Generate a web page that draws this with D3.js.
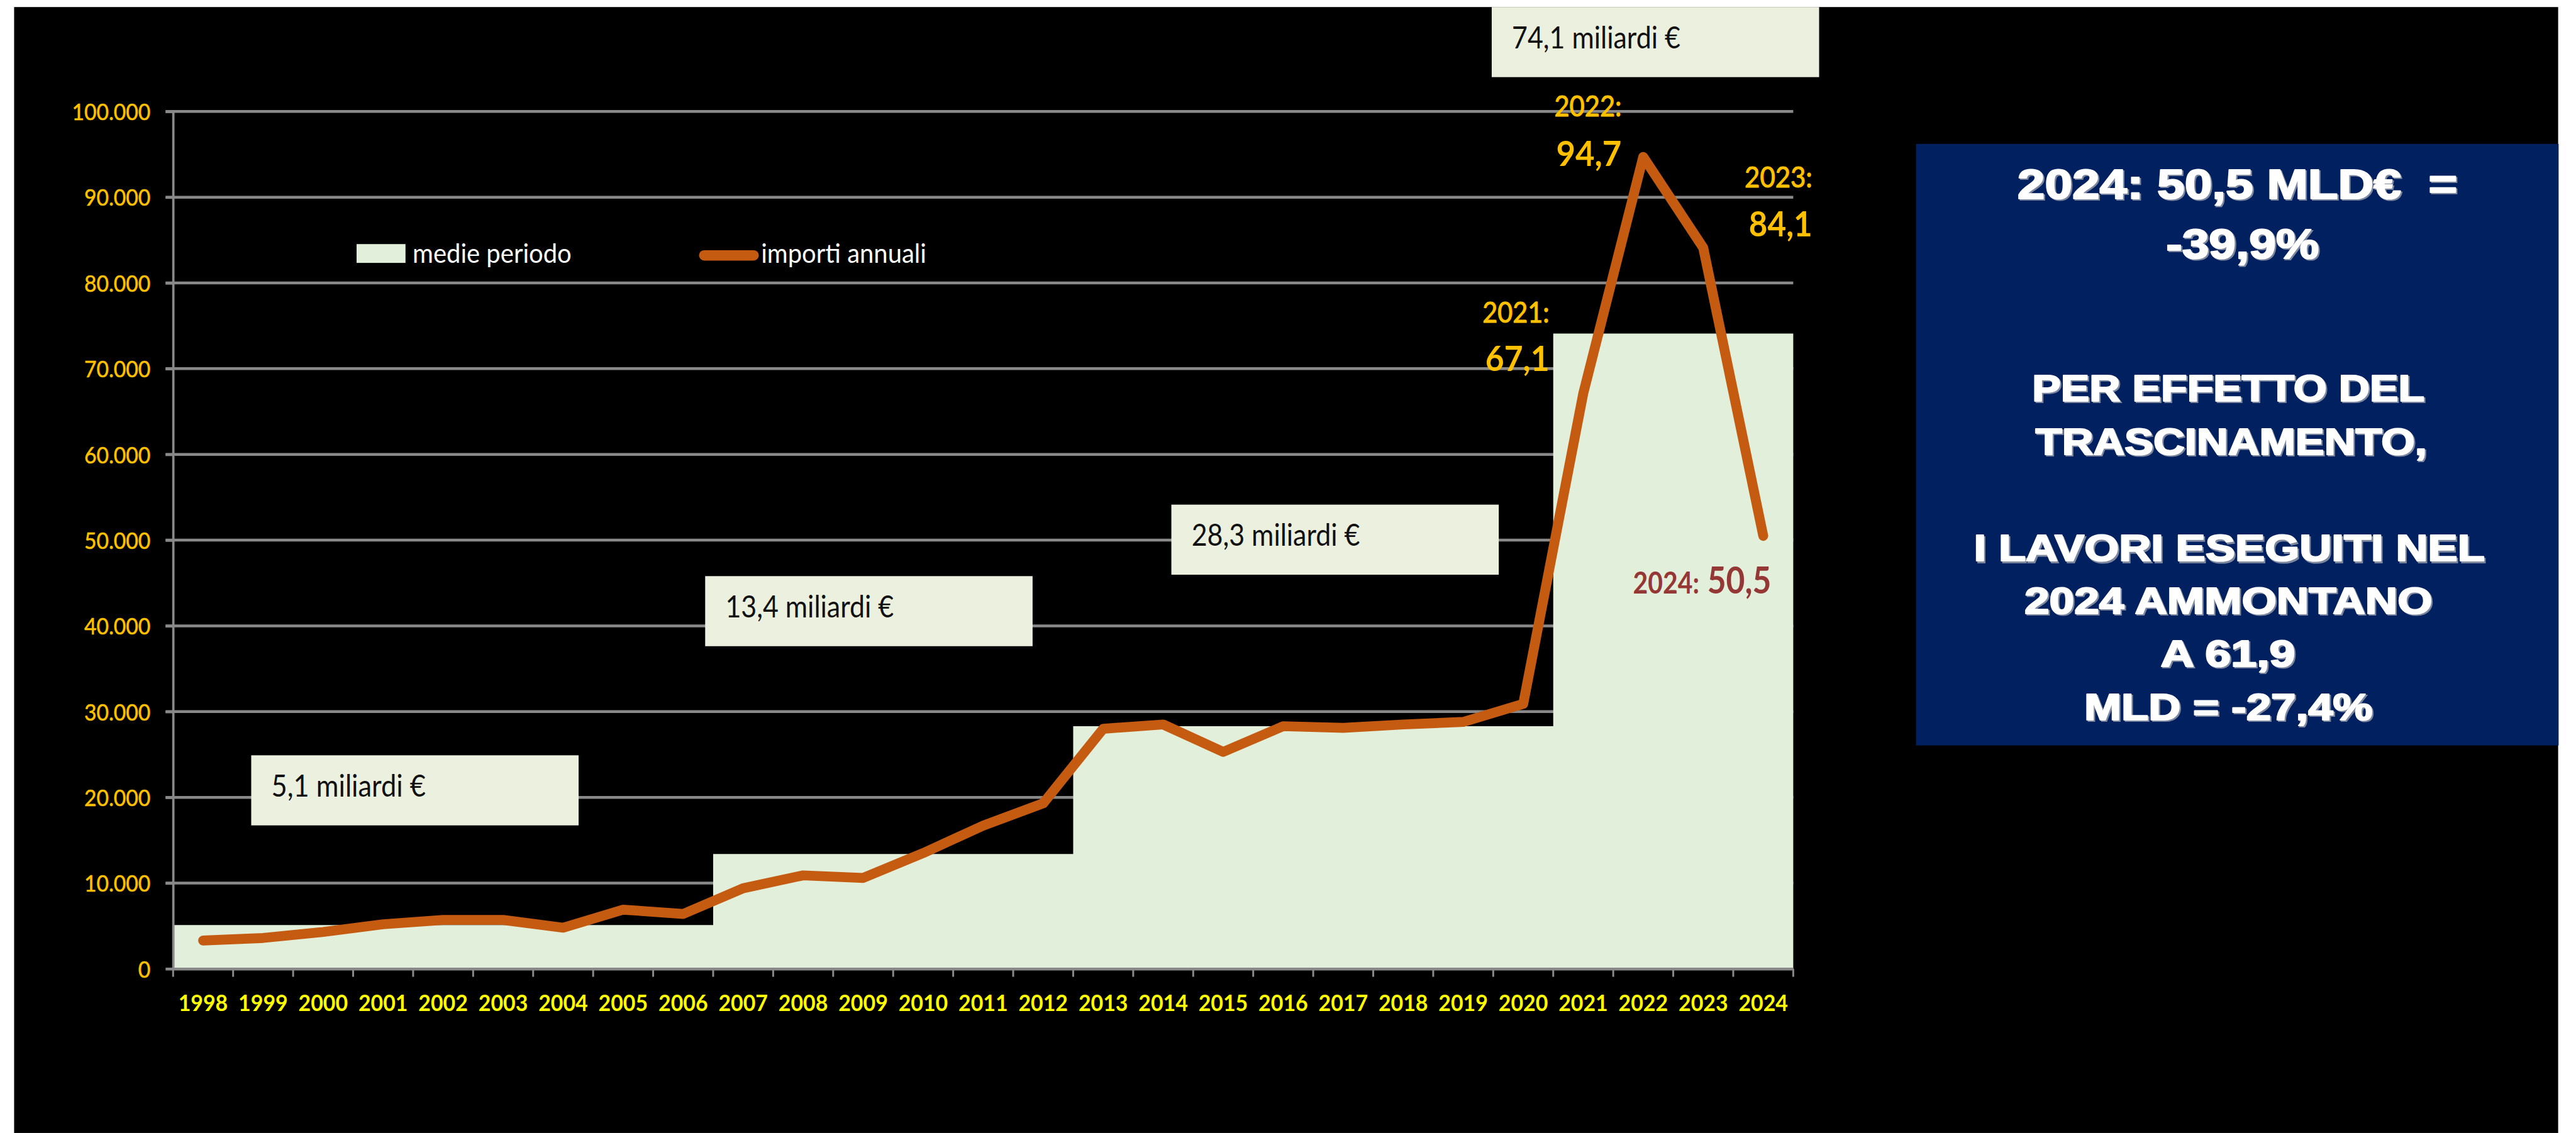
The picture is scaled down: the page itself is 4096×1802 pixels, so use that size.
<!DOCTYPE html>
<html><head><meta charset="utf-8">
<script src="https://cdn.jsdelivr.net/npm/d3@7"></script>
<style>html,body{margin:0;padding:0;background:#fff;overflow:hidden}</style>
</head><body>
<svg id="c" width="4096" height="1802"></svg>
<script>
// ---------- data ----------
const years = ["1998","1999","2000","2001","2002","2003","2004","2005","2006","2007","2008","2009","2010","2011","2012","2013","2014","2015","2016","2017","2018","2019","2020","2021","2022","2023","2024"];
const importiAnnuali = [3300,3600,4300,5200,5700,5700,4800,6900,6400,9400,10900,10600,13500,16700,19300,28000,28500,25300,28300,28100,28500,28800,30900,67100,94700,84100,50500];
const periodStart = ["1998","2007","2013","2021"];
const periodEnd   = ["2006","2012","2020","2024"];
const medieValues = [5100,13400,28300,74100];
const yTicks = [0,10000,20000,30000,40000,50000,60000,70000,80000,90000,100000];
const yTickLabels = ["0","10.000","20.000","30.000","40.000","50.000","60.000","70.000","80.000","90.000","100.000"];
const legendLabels = ["medie periodo","importi annuali"];
const calloutYears = ["2021","2022","2023","2024"];
const infoLines = ["2024: 50,5 MLD€  =","-39,9%","PER EFFETTO DEL","TRASCINAMENTO,","","I LAVORI ESEGUITI NEL","2024 AMMONTANO","A 61,9","MLD = -27,4%"];

// ---------- setup ----------
const S = 0.748;
const it = d3.formatLocale({decimal:",", thousands:".", grouping:[3], currency:["","€"]});
const fmt1 = it.format(".1f");
const svg = d3.select('#c');
const root = svg.append('g').attr('transform', `scale(${S})`);
const LATO = "Lato, 'Open Sans', sans-serif";
const COL_AREA = "#E2EFDA", COL_BOX = "#EBF0DF", COL_LINE = "#C55A11", COL_GRID = "#898989";

function fit(sel, w){ sel.attr('textLength', w).attr('lengthAdjust','spacingAndGlyphs'); return sel; }
function squeeze(sel, k){ sel.each(function(){ const L=this.getComputedTextLength(); this.setAttribute('textLength', L*k); this.setAttribute('lengthAdjust','spacingAndGlyphs'); }); }

root.append('rect').attr('x',30).attr('y',15).attr('width',5408).attr('height',2394).attr('fill','#000');

const x = d3.scaleBand().domain(years).range([368, 3812]).padding(0);
const bw = x.bandwidth();
const y = d3.scaleLinear().domain([0,100000]).range([2060, 237]);
const cx = d => x(d) + bw/2;

// gridlines
root.append('g').selectAll('line').data(yTicks.filter(d=>d>0)).join('line')
  .attr('x1', 352).attr('x2', x.range()[1]).attr('y1', d=>y(d)).attr('y2', d=>y(d))
  .attr('stroke', COL_GRID).attr('stroke-width', 6);

// period areas (one step path so no seams)
const stepPts = [];
medieValues.forEach((v,i)=>{
  stepPts.push([x(periodStart[i]), v]);
  stepPts.push([x(periodEnd[i]) + bw, v]);
});
root.append('path')
  .attr('d', d3.area().x(d=>d[0]).y0(y(0)).y1(d=>y(d[1])).curve(d3.curveLinear)(stepPts))
  .attr('fill', COL_AREA);

// y axis
const yAxis = root.append('g').attr('transform','translate(368,0)')
  .call(d3.axisLeft(y).tickValues(yTicks).tickFormat((d,i)=>yTickLabels[i]).tickSize(16).tickSizeOuter(0).tickPadding(32));
yAxis.select('.domain').attr('stroke', COL_GRID).attr('stroke-width', 5);
yAxis.selectAll('.tick line').attr('stroke', COL_GRID).attr('stroke-width', 6);
const yt = yAxis.selectAll('.tick text').attr('fill','#FFC000').attr('font-family',LATO).attr('font-size',50).attr('dy', 18)
  .attr('stroke','#FFC000').attr('stroke-width',0.8);
{ const n = yt.nodes(); const k = 167 / n[n.length-1].getComputedTextLength(); squeeze(yt, k); }

// x axis
const xAxis = root.append('g').attr('transform',`translate(0,${y(0)})`)
  .call(d3.axisBottom(x).tickSize(0).tickSizeOuter(0));
xAxis.select('.domain').attr('stroke', COL_GRID).attr('stroke-width', 6);
const xt = xAxis.selectAll('.tick text').attr('fill','#FFFF00').attr('font-family',LATO).attr('font-weight','bold').attr('font-size',49).attr('y', 90).attr('dy', 0);
{ const k = 105 / xt.nodes()[0].getComputedTextLength(); squeeze(xt, k); }
const bounds = years.map(d=>x(d)).concat([x.range()[1]]);
root.append('g').selectAll('line').data(bounds).join('line')
  .attr('x1', d=>d).attr('x2', d=>d).attr('y1', y(0)).attr('y2', y(0)+17)
  .attr('stroke', COL_GRID).attr('stroke-width', 4);

// period label boxes
const boxPos = [[534,1606],[1499,1225],[2490,1073],[3171,15]];
const bg = root.append('g');
medieValues.forEach((v,i)=>{
  const [bx,by] = boxPos[i];
  bg.append('rect').attr('x',bx).attr('y',by).attr('width',696).attr('height',149).attr('fill',COL_BOX);
  const t = bg.append('text').attr('x',bx+43).attr('y',by+88).attr('font-family',LATO).attr('font-size',64).attr('fill','#111')
    .text(fmt1(v/1000) + " miliardi €");
  fit(t, i===0 ? 328 : 358);
});

// legend
const lg = root.append('g');
lg.append('rect').attr('x',758).attr('y',519).attr('width',104).attr('height',40).attr('fill',COL_AREA);
fit(lg.append('text').attr('x',877).attr('y',559).attr('font-family',LATO).attr('font-size',58).attr('fill','#fff').text(legendLabels[0]), 338);
lg.append('line').attr('x1',1497).attr('x2',1602).attr('y1',543).attr('y2',543).attr('stroke',COL_LINE).attr('stroke-width',22).attr('stroke-linecap','round');
fit(lg.append('text').attr('x',1618).attr('y',559).attr('font-family',LATO).attr('font-size',58).attr('fill','#fff').text(legendLabels[1]), 351);

// line
const pts = years.map((d,i)=>[cx(d), y(importiAnnuali[i])]);
root.append('path').attr('d', d3.line()(pts)).attr('fill','none').attr('stroke',COL_LINE)
  .attr('stroke-width',21).attr('stroke-linecap','round').attr('stroke-linejoin','round');

// callouts
const cl = root.append('g').attr('font-family',LATO);
const calloutLayout = {
  "2021": {anchor:'end', dx:-72, yDy:-151, vDy:-48, yw:142, vw:136},
  "2022": {anchor:'end', dx:-46, yDy:-86, vDy:19, yw:143, vw:139},
  "2023": {anchor:'end', dx:232, yDy:-128, vDy:-24, yw:144, vw:135}
};
calloutYears.forEach(yr=>{
  const v = importiAnnuali[years.indexOf(yr)];
  const px = cx(yr), py = y(v);
  if (calloutLayout[yr]) {
    const L = calloutLayout[yr];
    fit(cl.append('text').attr('x',px+L.dx).attr('y',py+L.yDy).attr('text-anchor',L.anchor).attr('font-size',63).attr('fill','#FFC000')
      .attr('stroke','#FFC000').attr('stroke-width',1.5).text(yr+":"), L.yw);
    fit(cl.append('text').attr('x',px+L.dx).attr('y',py+L.vDy).attr('text-anchor',L.anchor).attr('font-size',75).attr('font-weight','bold').attr('fill','#FFC000').text(fmt1(v/1000)), L.vw);
  } else {
    fit(cl.append('text').attr('x',px-277).attr('y',py+123).attr('font-size',65).attr('font-weight','bold').attr('fill','#953735').text(yr+":"), 141);
    fit(cl.append('text').attr('x',px+17).attr('y',py+123).attr('text-anchor','end').attr('font-size',78).attr('font-weight','bold').attr('fill','#953735').text(fmt1(v/1000)), 136);
  }
});

// info box
const ib = root.append('g');
ib.append('rect').attr('x',4073).attr('y',306).attr('width',1366).attr('height',1279).attr('fill','#002060');
const lineLayout = [
  {cx:4756, y:422, fs:90, w:935},
  {cx:4767, y:549, fs:90, w:325},
  {cx:4737, y:853, fs:78, w:834},
  {cx:4743, y:966, fs:78, w:832},
  null,
  {cx:4739, y:1193, fs:78, w:1086},
  {cx:4737, y:1305, fs:78, w:867},
  {cx:4736, y:1417, fs:78, w:286},
  {cx:4737, y:1531, fs:78, w:613}
];
infoLines.forEach((txt,i)=>{
  const L = lineLayout[i]; if(!L || !txt) return;
  const sh = ib.append('text').attr('x',L.cx+3).attr('y',L.y+3).attr('text-anchor','middle')
    .attr('font-family',"'Liberation Sans', Arial, sans-serif").attr('font-weight','bold').attr('font-size',L.fs)
    .attr('fill','#7d879e').attr('stroke','#7d879e').attr('stroke-width',3).style('white-space','pre').text(txt);
  fit(sh, L.w);
  const t = ib.append('text').attr('x',L.cx).attr('y',L.y).attr('text-anchor','middle')
    .attr('font-family',"'Liberation Sans', Arial, sans-serif").attr('font-weight','bold').attr('font-size',L.fs)
    .attr('fill','#fff').attr('stroke','#fff').attr('stroke-width',3).attr('stroke-linejoin','round').style('white-space','pre').text(txt);
  fit(t, L.w);
});
</script>
</body></html>
